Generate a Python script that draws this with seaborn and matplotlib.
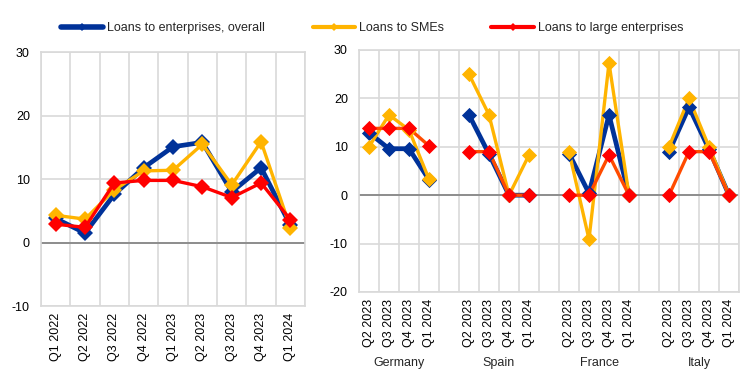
import matplotlib
matplotlib.use('Agg')
import matplotlib.pyplot as plt
import numpy as np
import pandas as pd
import seaborn as sns

# left panel: euro area, quarterly
quarters_ea = ['Q1 2022', 'Q2 2022', 'Q3 2022', 'Q4 2022', 'Q1 2023',
               'Q2 2023', 'Q3 2023', 'Q4 2023', 'Q1 2024']
ea_overall = [3.8, 1.5, 7.6, 11.8, 15.1, 15.8, 8.0, 11.8, 2.7]
ea_smes = [4.3, 3.7, 8.3, 11.3, 11.4, 15.5, 9.1, 15.9, 2.3]
ea_large = [2.9, 2.4, 9.4, 9.8, 9.8, 8.8, 7.1, 9.4, 3.6]

# right panel: countries
countries = ['Germany', 'Spain', 'France', 'Italy']
quarters_cty = ['Q2 2023', 'Q3 2023', 'Q4 2023', 'Q1 2024']
cty_overall = {
    'Germany': [12.9, 9.6, 9.6, 3.2],
    'Spain': [16.6, 8.5, 0.0, 0.0],
    'France': [8.6, 0.4, 16.6, 0.0],
    'Italy': [9.0, 18.2, 9.5, 0.0],
}
cty_smes = {
    'Germany': [10.0, 16.6, 13.5, 3.3],
    'Spain': [25.0, 16.6, 0.0, 8.3],
    'France': [9.0, -9.1, 27.3, 0.0],
    'Italy': [10.0, 20.0, 10.0, 0.0],
}
cty_large = {
    'Germany': [13.8, 13.8, 13.8, 10.2],
    'Spain': [9.0, 9.0, 0.0, 0.0],
    'France': [0.0, 0.0, 8.3, 0.0],
    'Italy': [0.0, 9.0, 9.0, 0.0],
}

series_names = ['Loans to enterprises, overall', 'Loans to SMEs', 'Loans to large enterprises']
colors = {'Loans to enterprises, overall': '#003299',
          'Loans to SMEs': '#ffb400',
          'Loans to large enterprises': '#ff0000'}
widths = {'Loans to enterprises, overall': 3.4,
          'Loans to SMEs': 2.4,
          'Loans to large enterprises': 2.4}

sns.set_style('white')
plt.rcParams['font.family'] = ['Liberation Sans', 'DejaVu Sans']
plt.rcParams['font.size'] = 9

fig = plt.figure(figsize=(7.44, 3.84), dpi=100)
ax1 = fig.add_axes([0.0551, 0.203, 0.355, 0.661])
ax2 = fig.add_axes([0.4825, 0.2396, 0.5108, 0.6302])

# ---- left panel
left = pd.DataFrame({
    'pos': np.tile(np.arange(len(quarters_ea)), 3),
    'value': ea_overall + ea_smes + ea_large,
    'series': np.repeat(series_names, len(quarters_ea)),
})
for name in series_names:
    sub = left[left['series'] == name]
    sns.lineplot(data=sub, x='pos', y='value', color=colors[name], lw=widths[name],
                 marker='D', markersize=8, markeredgewidth=0, ax=ax1, label=name,
                 legend=False, zorder=3)

# ---- right panel
rows = []
for ci, c in enumerate(countries):
    for qi, q in enumerate(quarters_cty):
        pos = ci * 5 + qi
        rows.append((pos, c, q, series_names[0], cty_overall[c][qi]))
        rows.append((pos, c, q, series_names[1], cty_smes[c][qi]))
        rows.append((pos, c, q, series_names[2], cty_large[c][qi]))
right = pd.DataFrame(rows, columns=['pos', 'country', 'quarter', 'series', 'value'])

right_line_colors = dict(colors)
right_line_colors['Loans to large enterprises'] = '#ff4b00'
for name in series_names:
    sub = right[right['series'] == name]
    sns.lineplot(data=sub, x='pos', y='value', units='country', estimator=None,
                 color=right_line_colors[name], lw=widths[name], ax=ax2, zorder=3)
    sns.scatterplot(data=sub, x='pos', y='value', color=colors[name], marker='D',
                    s=60, linewidth=0, ax=ax2, zorder=4)

# ---- styling
def style_axis(ax, n, ylim, yticks):
    ax.set_xlim(-0.5, n - 0.5)
    ax.set_ylim(*ylim)
    ax.set_yticks(yticks)
    ax.set_yticklabels([str(t) for t in yticks])
    ax.set_xticks(np.arange(-0.5, n, 1.0), minor=True)
    ax.grid(True, which='minor', axis='x', color='#d9d9d9', lw=1.2, zorder=0)
    ax.grid(True, which='major', axis='y', color='#d9d9d9', lw=1.2, zorder=0)
    ax.grid(False, which='major', axis='x')
    ax.axhline(0, color='#808080', lw=1.2, zorder=2)
    for sp in ax.spines.values():
        sp.set_color('#d9d9d9')
        sp.set_linewidth(1.2)
    ax.tick_params(axis='both', which='both', length=0, labelsize=9, colors='black')
    ax.tick_params(axis='y', pad=8)
    ax.tick_params(axis='x', pad=5)
    ax.set_xlabel('')
    ax.set_ylabel('')

style_axis(ax1, len(quarters_ea), (-10, 30), [-10, 0, 10, 20, 30])
ax1.set_xticks(np.arange(len(quarters_ea)))
ax1.set_xticklabels(quarters_ea, rotation=90)

style_axis(ax2, 19, (-20, 30), [-20, -10, 0, 10, 20, 30])
pos_ticks = [ci * 5 + qi for ci in range(len(countries)) for qi in range(len(quarters_cty))]
ax2.set_xticks(pos_ticks)
ax2.set_xticklabels(quarters_cty * len(countries), rotation=90)
for ci, c in enumerate(countries):
    ax2.text(ci * 5 + 1.5, -0.295, c, transform=ax2.get_xaxis_transform(),
             ha='center', va='center', fontsize=9)

# legend
handles = [plt.Line2D([], [], color=colors[n], lw=widths[n] + 0.6, marker='D',
                      markersize=4, markeredgewidth=0) for n in series_names]
fig.legend(handles, series_names, loc='center', bbox_to_anchor=(0.5, 0.927), ncol=3,
           frameon=False, handlelength=3.4, columnspacing=3.8, handletextpad=0.3,
           fontsize=9)

fig.savefig('out.png', dpi=100)
